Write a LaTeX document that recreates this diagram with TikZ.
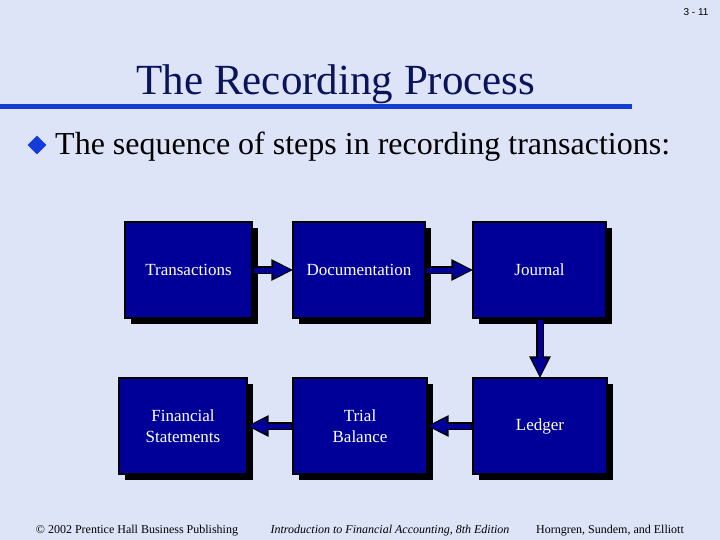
\documentclass[tikz,border=0pt]{standalone}
\usepackage{fontspec}
\setmainfont{Liberation Serif}
\newfontfamily\pnfont{Liberation Sans}
\usetikzlibrary{arrows.meta,shapes.geometric}
\definecolor{bgc}{RGB}{221,228,248}
\definecolor{boxc}{RGB}{0,0,153}
\definecolor{titc}{RGB}{10,20,90}
\definecolor{rulec}{RGB}{20,60,210}
\definecolor{bulc}{RGB}{20,60,220}
\tikzset{
  stepbox/.style={draw=black, line width=1.2pt, fill=boxc, text=white, align=center,
    font=\fontsize{17}{21}\selectfont, inner sep=0pt,
    minimum width=#1, minimum height=96pt},
  shadowbox/.style={fill=black},
  flowarrow/.style={line width=8.5pt, black, -{Triangle[length=22pt,width=20pt]}, shorten >=-1pt,
    postaction={draw=boxc, line width=5pt, -{Triangle[length=18pt,width=15pt]}, shorten >=1pt, shorten <=1.5pt}},
}
\begin{document}
\begin{tikzpicture}[x=1pt,y=-1pt]
\useasboundingbox[fill=bgc] (0,0) rectangle (720,540);
% page number
\node[font=\pnfont\fontsize{10}{12}\selectfont, anchor=east] (pn) at (712,12) {3 - 11};
% title
\node[font=\fontsize{43}{50}\selectfont, text=titc, anchor=base] (title) at (336,95) {The Recording Process};
\coordinate (r1) at (0,107);
\coordinate (r2) at (632,107);
\draw[rulec, line width=5pt] (r1) -- (r2);
% bullet
\node[diamond, fill=bulc, minimum width=19pt, minimum height=19pt, inner sep=0pt] (bul) at (37,145) {};
\node[font=\fontsize{32}{38}\selectfont, anchor=base west, inner sep=0pt] (btext) at (55,155) {The sequence of steps in recording transactions:};
% shadows
\fill[shadowbox] (131,228) rectangle (258,324);
\fill[shadowbox] (299,228) rectangle (431,324);
\fill[shadowbox] (479,228) rectangle (612,324);
\fill[shadowbox] (125,384) rectangle (253,480);
\fill[shadowbox] (299,384) rectangle (433,480);
\fill[shadowbox] (479,384) rectangle (613,480);
% boxes
\node[stepbox=127pt] (tr) at (188.5,270) {Transactions};
\node[stepbox=132pt] (doc) at (359,270) {Documentation};
\node[stepbox=133pt] (jo) at (539.5,270) {Journal};
\node[stepbox=128pt] (fs) at (183,426) {Financial\\Statements};
\node[stepbox=134pt] (tb) at (360,426) {Trial\\Balance};
\node[stepbox=134pt] (le) at (540,426) {Ledger};
% arrows
\draw[flowarrow] (tr.east) -- (doc.west);
\draw[flowarrow] (doc.east) -- (jo.west);
\draw[flowarrow] (jo.south -| le.north) -- (le.north);
\draw[flowarrow] (le.west) -- (tb.east);
\draw[flowarrow] (tb.west) -- (fs.east);
% footer
\node[font=\fontsize{12}{14}\selectfont, anchor=base] (f1) at (137,533) {\textcopyright{} 2002 Prentice Hall Business Publishing};
\node[font=\itshape\fontsize{12}{14}\selectfont, anchor=base] (f2) at (390,533) {Introduction to Financial Accounting, 8th Edition};
\node[font=\fontsize{12}{14}\selectfont, anchor=base] (f3) at (610,533) {Horngren, Sundem, and Elliott};
\end{tikzpicture}
\end{document}
